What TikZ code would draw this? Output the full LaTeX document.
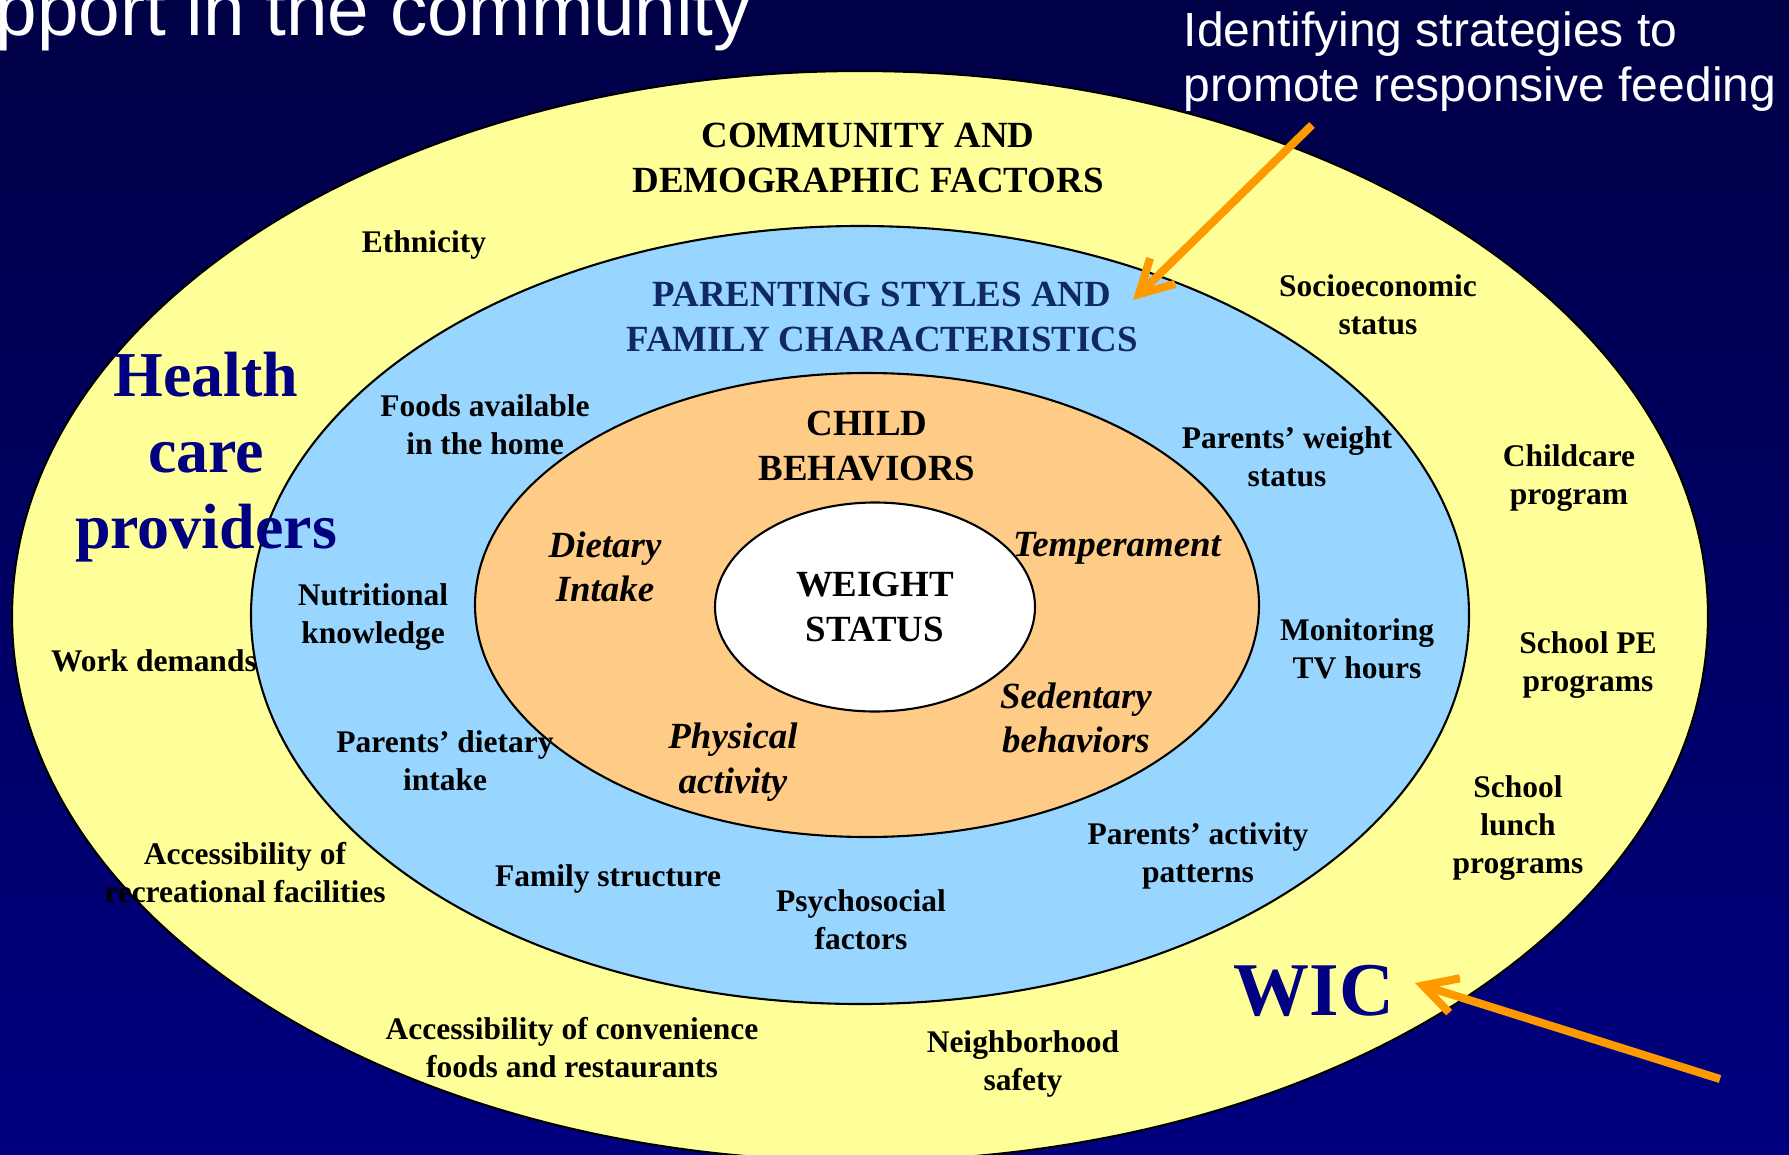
\documentclass[tikz,border=0pt]{standalone}
\usepackage{fontspec}
\setmainfont{Liberation Serif}
\newfontfamily\slidefont{Liberation Sans}
\usepackage{tikz}
\usetikzlibrary{shapes.geometric}
\usetikzlibrary{arrows.meta}
\definecolor{slidetop}{RGB}{0,0,70}
\definecolor{slidebottom}{RGB}{0,0,128}
\definecolor{commfill}{RGB}{255,255,153}
\definecolor{famfill}{RGB}{153,214,255}
\definecolor{childfill}{RGB}{255,204,136}
\definecolor{famtext}{RGB}{16,40,100}
\definecolor{hilite}{RGB}{0,0,128}
\definecolor{pointer}{RGB}{255,153,0}
\begin{document}
\begin{tikzpicture}[x=0.1mm,y=-0.1mm,
ring/.style={ellipse,draw=black,line width=0.6pt,inner sep=0,outer sep=0},
lbl/.style={align=center,inner sep=0,yshift=-0.3mm,font=\fontsize{8.96}{10.8}\selectfont\bfseries},
head/.style={align=center,inner sep=0,yshift=-0.2mm,font=\fontsize{10.5}{12.66}\selectfont\bfseries},
slant/.style={align=center,inner sep=0,yshift=-0.2mm,font=\fontsize{10.5}{12.66}\selectfont\bfseries\itshape},
big/.style={align=center,inner sep=0,yshift=-0.4mm,text=hilite,font=\fontsize{18.2}{21.6}\selectfont\bfseries},
slide text/.style={text=white,inner sep=0,font=\slidefont},
pointer arrow/.style={draw=pointer,line width=2.3pt,-{Straight Barb[length=3.3mm,width=3.6mm]}}]
\useasboundingbox (0,0) rectangle (1789,1154);
\clip (0,0) rectangle (1789,1154);
\shade[top color=slidetop,bottom color=slidebottom] (0,0) rectangle (1789,1154);
%==================
\node[slide text,anchor=base west,font=\slidefont\fontsize{21.25}{25}\selectfont] (title) at (-5,36) {pport in the community};
\node[slide text,anchor=north west,align=left,font=\slidefont\fontsize{13.66}{15.65}\selectfont] (strategies) at (1183,11) {Identifying strategies to\\promote responsive feeding};
%==================
\node[ring,fill=commfill,minimum width=16.96cm,minimum height=10.9cm] (community) at (860,616) {};
\node[ring,fill=famfill,minimum width=12.18cm,minimum height=7.78cm] (family) at (860,615) {};
\node[ring,fill=childfill,minimum width=7.84cm,minimum height=4.64cm] (child) at (867,605) {};
\node[ring,fill=white,minimum width=3.2cm,minimum height=2.09cm,align=center,font=\fontsize{10.5}{12.66}\selectfont\bfseries] (weight) at (875,607) {WEIGHT\\STATUS};
% ===================
\node[head] (commtitle) at (868,156) {COMMUNITY AND\\DEMOGRAPHIC FACTORS};
\node[lbl] (ethnicity) at (424,242) {Ethnicity};
\node[lbl] (socio) at (1378,302) {Socioeconomic\\status};
\node[big] (health) at (206,453) {Health\\care\\providers};
\node[lbl] (childcare) at (1569,475) {Childcare\\program};
\node[lbl] (schoolpe) at (1588,662) {School PE\\programs};
\node[lbl] (work) at (154,658) {Work demands};
\node[lbl] (lunch) at (1518,825) {School\\lunch\\programs};
\node[lbl] (recreation) at (245,870) {Accessibility of\\recreational facilities};
\node[big,font=\fontsize{21.6}{25}\selectfont\bfseries] (wic) at (1314,987) {WIC};
\node[lbl] (convenience) at (572,1045) {Accessibility of convenience\\foods and restaurants};
\node[lbl] (safety) at (1023,1061) {Neighborhood\\safety};
% ===================
\node[head,text=famtext] (famtitle) at (882,315) {PARENTING STYLES AND\\FAMILY CHARACTERISTICS};
\node[lbl] (foods) at (485,422) {Foods available\\in the home};
\node[lbl] (parweight) at (1287,454) {Parents’ weight\\status};
\node[lbl] (nutri) at (373,614) {Nutritional\\knowledge};
\node[lbl] (monitor) at (1357,646) {Monitoring\\TV hours};
\node[lbl] (pardiet) at (445,758) {Parents’ dietary\\intake};
\node[lbl] (paract) at (1198,853) {Parents’ activity\\patterns};
\node[lbl] (famstruct) at (608,876) {Family structure};
\node[lbl] (psycho) at (861,917) {Psychosocial\\factors};
% ===================
\node[head] (childtitle) at (867,444) {CHILD\\BEHAVIORS};
\node[slant] (dietary) at (605,565) {Dietary\\Intake};
\node[slant] (temper) at (1117,546) {Temperament};
\node[slant] (sedentary) at (1076,716) {Sedentary\\behaviors};
\node[slant] (physical) at (733,760) {Physical\\activity};
% ===================
\coordinate (feed tail) at (1312,125);
\coordinate (feed tip) at (1133,300);
\draw[pointer arrow] (feed tail) -- (feed tip);
\coordinate (wic tail) at (1720,1079);
\coordinate (wic tip) at (1415,983);
\draw[pointer arrow] (wic tail) -- (wic tip);
\end{tikzpicture}
\end{document}
